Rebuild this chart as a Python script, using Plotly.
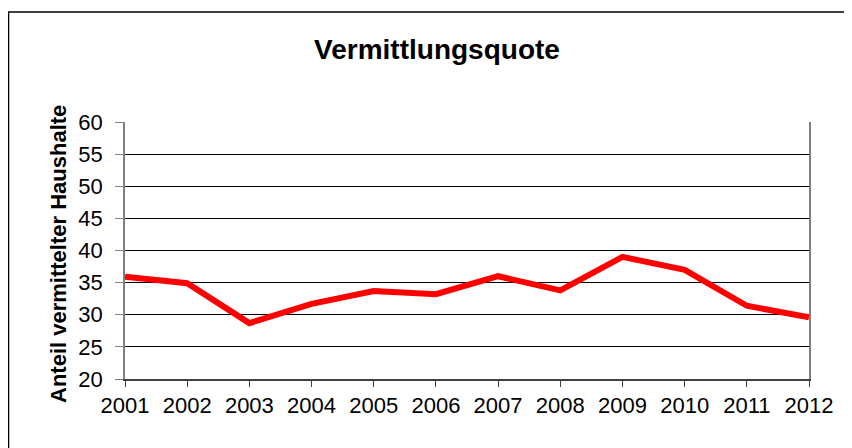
import plotly.graph_objects as go

years = ["2001", "2002", "2003", "2004", "2005", "2006", "2007", "2008", "2009", "2010", "2011", "2012"]
quote = [35.9, 34.9, 28.7, 31.7, 33.7, 33.2, 36.0, 33.8, 39.0, 37.0, 31.4, 29.6]
y_ticks = [20, 25, 30, 35, 40, 45, 50, 55, 60]

# page body has an 8px margin, so figure is 8px smaller than window
W, H = 844, 440
L, R, T, B = 117, 43, 114, 69
pw = W - L - R
ph = H - T - B

fig = go.Figure()
fig.add_trace(go.Scatter(
    x=years, y=quote, mode="lines",
    line=dict(color="#ff0000", width=6),
    showlegend=False, cliponaxis=False,
))

font = "Liberation Sans, Arial, sans-serif"

fig.update_layout(
    width=W, height=H,
    margin=dict(l=L, r=R, t=T, b=B),
    paper_bgcolor="white", plot_bgcolor="white",
    title=dict(text="<b>Vermittlungsquote</b>", x=429 / W, xanchor="center",
               y=1 - 41 / H, yanchor="middle", yref="container",
               font=dict(family=font, size=28, color="black")),
    font=dict(family=font, color="black"),
    xaxis=dict(
        type="category", range=[0, 11], showgrid=False,
        showline=True, linecolor="#404040", linewidth=1.5, mirror=False,
        ticks="outside", ticklen=6, tickcolor="#404040",
        tickfont=dict(size=22, color="black"),
    ),
    yaxis=dict(
        range=[20, 60], tickvals=y_ticks, showgrid=True, gridcolor="black", gridwidth=1,
        showline=True, linecolor="#808080", linewidth=1.5, mirror=True,
        ticks="outside", ticklen=8, tickcolor="#808080", ticklabelstandoff=8,
        tickfont=dict(size=22, color="black"), zeroline=False,
    ),
    annotations=[dict(
        text="<b>Anteil vermittelter Haushalte</b>", textangle=-90,
        xref="paper", yref="paper", x=(50 - L) / pw, y=(371 - 246) / ph,
        xanchor="center", yanchor="middle", showarrow=False,
        font=dict(family=font, size=22, color="black"),
    )],
    shapes=[dict(
        type="rect", xref="paper", yref="paper",
        x0=(0.5 - L) / pw, x1=(860 - L) / pw,
        y0=(371 - 470) / ph, y1=(371 - 4) / ph,
        line=dict(color="black", width=1.5), fillcolor="rgba(0,0,0,0)", layer="below",
    )],
)

fig.write_html("out.html")
